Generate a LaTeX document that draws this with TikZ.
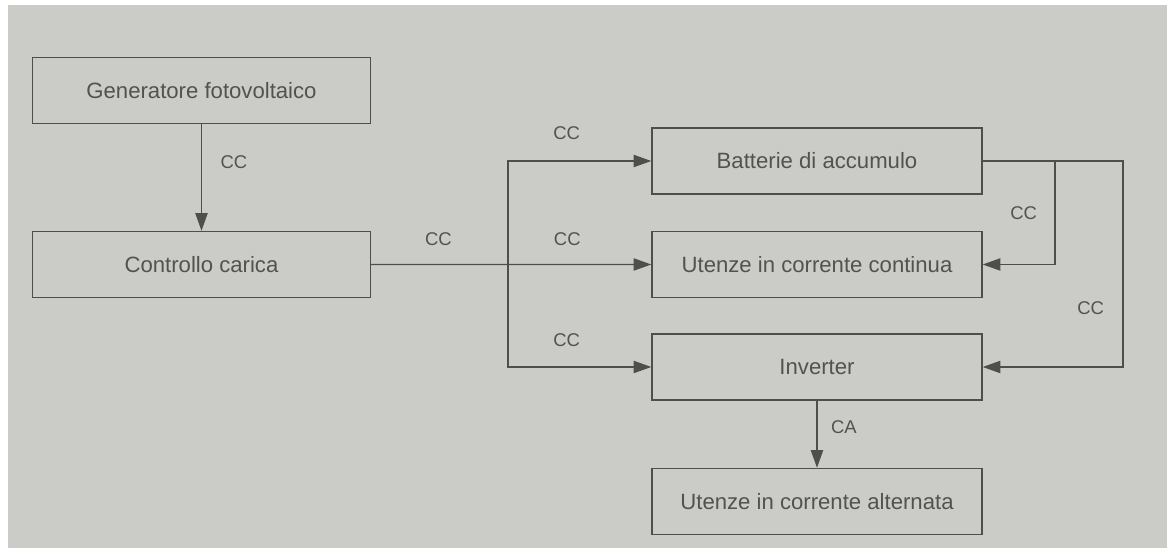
\documentclass[tikz,border=0pt]{standalone}
\usepackage{fontspec}
\setmainfont{Liberation Sans}
\usetikzlibrary{arrows.meta, positioning}
\definecolor{paper}{HTML}{CBCBC7}
\definecolor{ink}{HTML}{4E4E4C}
\definecolor{inktext}{HTML}{525250}

\begin{document}
\begin{tikzpicture}[
    node distance=0.7cm,
    unit/.style={rectangle, draw=ink, line width=0.85pt, minimum height=1.32cm, align=center, text=inktext, font=\fontsize{12.6}{14}\selectfont},
    wideunit/.style={unit, minimum width=6.76cm},
    narrowunit/.style={unit, minimum width=6.6cm},
    arrow/.style={-{Triangle[length=10pt, width=7pt]}, draw=ink, line width=0.6pt},
    cur/.style={text=inktext, font=\fontsize{10.5}{12}\selectfont, inner sep=2pt}
]

% sheet
\fill[white] (0,0) rectangle (23.34,11.08);
\fill[paper] (0.16,0.12) rectangle (23.34,10.98);
\useasboundingbox (0,0) rectangle (23.34,11.08);

% left column
\node[wideunit] (gen) at (4.03,9.27) {Generatore fotovoltaico};
\node[wideunit, below=2.13cm of gen] (ctrl) {Controllo carica};

% right column
\node[narrowunit] (batt) at (16.34,7.86) {Batterie di accumulo};
\node[narrowunit, below=0.72cm of batt] (ucc) {Utenze in corrente continua};
\node[narrowunit, below=0.7cm of ucc] (inv) {Inverter};
\node[narrowunit, below=1.34cm of inv] (uca) {Utenze in corrente alternata};

\coordinate (tapL) at (10.16,5.82);
\coordinate (tapR) at (21.1,7.86);
\coordinate (cornerR) at (22.46,7.86);

\draw[arrow] (gen) -- node[cur, right=0.3cm, pos=0.36] {CC} (ctrl);
\draw[arrow] (ctrl.east) -- node[cur, above=0.3cm, pos=0.24] {CC} node[cur, above=0.3cm, pos=0.7] {CC} (ucc.west);
\draw[arrow] (tapL) |- node[cur, above=0.35cm, pos=0.705] {CC} (batt.west);
\draw[arrow] (tapL) |- node[cur, above=0.32cm, pos=0.705] {CC} (inv.west);

\draw[arrow] (batt.east) -- (cornerR) |- node[cur, left=0.3cm, pos=0.358] {CC} (inv.east);
\draw[arrow] (tapR) |- node[cur, left=0.28cm, pos=0.25] {CC} (ucc.east);

\draw[arrow] (inv) -- node[cur, right=0.2cm, pos=0.4] {CA} (uca);

\end{tikzpicture}
\end{document}
